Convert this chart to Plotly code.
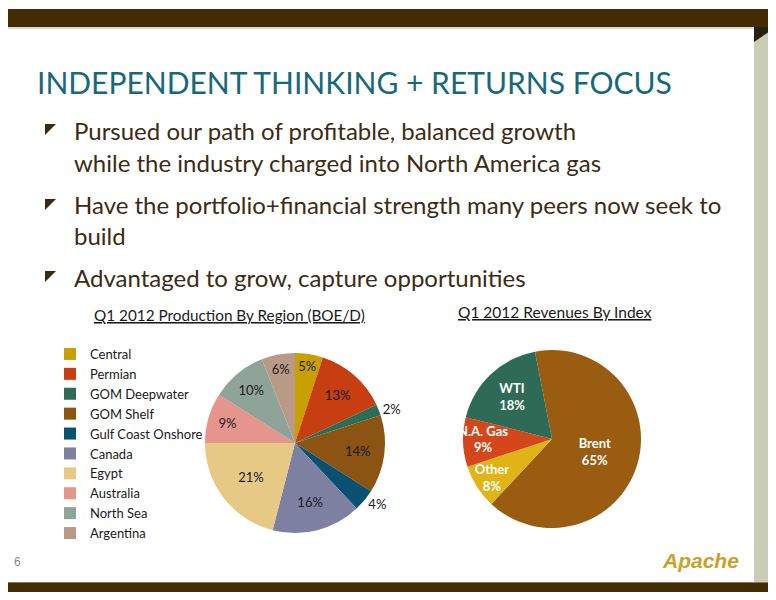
import plotly.graph_objects as go

OFF = 8  # page body margin of the browser
W, H = 776 - OFF, 600 - 2 * OFF

# ---- data ----
region_labels = ["Central", "Permian", "GOM Deepwater", "GOM Shelf", "Gulf Coast Onshore",
                 "Canada", "Egypt", "Australia", "North Sea", "Argentina"]
region_values = [5, 13, 2, 14, 4, 16, 21, 9, 10, 6]
region_colors = ["#c9a000", "#c63e12", "#2d6c57", "#8b5412", "#0a5070",
                 "#7e80a2", "#e6c985", "#e5958b", "#8fa398", "#b89a87"]
region_textpos = ["inside", "inside", "outside", "inside", "outside",
                  "inside", "inside", "inside", "inside", "inside"]

index_labels = ["Brent", "Other", "N.A. Gas", "WTI"]
index_values = [65, 8, 9, 18]
index_colors = ["#9a5c10", "#e0b415", "#d5471a", "#2e6b57"]

title_text = "INDEPENDENT THINKING + RETURNS FOCUS"
bullet_lines = [
    ("Pursued our path of profitable, balanced growth", 138, True),
    ("while the industry charged into North America gas", 170, False),
    ("Have the portfolio+financial strength many peers now seek to", 213, True),
    ("build", 243, False),
    ("Advantaged to grow, capture opportunities", 285, True),
]


def px(x):
    return (x - OFF) / W


def py(y):
    return 1 - (y - OFF) / H


fig = go.Figure()

# left pie: production by region
cx, cy, r = 295, 443, 90
fig.add_trace(go.Pie(
    labels=region_labels, values=region_values,
    text=[f"{v}%" for v in region_values], textinfo="text",
    textposition=region_textpos, insidetextorientation="horizontal",
    sort=False, direction="clockwise", rotation=0,
    marker=dict(colors=region_colors, line=dict(width=0)),
    textfont=dict(family="Lato", size=13, color="#1a1a1a"),
    outsidetextfont=dict(family="Lato", size=13, color="#1a1a1a"),
    domain=dict(x=[px(cx - r), px(cx + r)], y=[py(cy + r), py(cy - r)]),
    showlegend=True, hoverinfo="label+percent",
))

# right pie: revenues by index
cx2, cy2, r2 = 552, 439, 89
fig.add_trace(go.Pie(
    labels=index_labels, values=index_values,
    text=[f"<b>{l}<br>{v}%</b>" for l, v in zip(index_labels, index_values)],
    textinfo="text", textposition="inside", insidetextorientation="horizontal",
    sort=False, direction="clockwise", rotation=-11,
    marker=dict(colors=index_colors, line=dict(width=0)),
    textfont=dict(family="Lato", size=13, color="white"),
    domain=dict(x=[px(cx2 - r2), px(cx2 + r2)], y=[py(cy2 + r2), py(cy2 - r2)]),
    showlegend=False, hoverinfo="label+percent",
))

shapes = []
# top bar
shapes.append(dict(type="rect", xref="paper", yref="paper", x0=0, x1=1, y0=py(27), y1=py(9),
                   fillcolor="#432c02", line=dict(width=0), layer="below"))
shapes.append(dict(type="rect", xref="paper", yref="paper", x0=0, x1=px(754), y0=py(29), y1=py(27),
                   fillcolor="#d9d9d9", line=dict(width=0), layer="below"))
# right strip
shapes.append(dict(type="rect", xref="paper", yref="paper", x0=px(754), x1=1, y0=py(582), y1=py(27),
                   fillcolor="#c9cdb5", line=dict(width=0), layer="below"))
shapes.append(dict(type="path", xref="paper", yref="paper",
                   path=f"M{px(754)},{py(27)} L{px(776)},{py(27)} L{px(754)},{py(42)} Z",
                   fillcolor="#2a1f14", line=dict(width=0), layer="below"))
# bottom bar
shapes.append(dict(type="rect", xref="paper", yref="paper", x0=0, x1=1, y0=py(592), y1=py(582),
                   fillcolor="#432c02", line=dict(width=0), layer="below"))
shapes.append(dict(type="rect", xref="paper", yref="paper", x0=0, x1=1, y0=py(583), y1=py(582),
                   fillcolor="#8a7a5a", line=dict(width=0), layer="below"))

annotations = []
annotations.append(dict(text=title_text, x=px(35), y=py(82), xref="paper", yref="paper",
                        xanchor="left", yanchor="middle", showarrow=False,
                        font=dict(family="Lato", size=30, color="#17687a")))
for txt, base, bullet in bullet_lines:
    annotations.append(dict(text=txt, x=px(72), y=py(base - 8), xref="paper", yref="paper",
                            xanchor="left", yanchor="middle", showarrow=False,
                            font=dict(family="Lato", size=24, color="#3d2b13")))
    if bullet:
        t = base - 14
        shapes.append(dict(type="path", xref="paper", yref="paper",
                           path=f"M{px(45)},{py(t)} L{px(56)},{py(t)} L{px(45)},{py(t + 11)} Z",
                           fillcolor="#3b2a10", line=dict(width=0)))

annotations.append(dict(text="<u>Q1 2012 Production By Region (BOE/D)</u>", x=px(92), y=py(315),
                        xref="paper", yref="paper", xanchor="left", yanchor="middle", showarrow=False,
                        font=dict(family="Lato", size=15.3, color="#1a1a1a")))
annotations.append(dict(text="<u>Q1 2012 Revenues By Index</u>", x=px(456), y=py(312),
                        xref="paper", yref="paper", xanchor="left", yanchor="middle", showarrow=False,
                        font=dict(family="Lato", size=15.5, color="#1a1a1a")))
annotations.append(dict(text="6", x=px(17), y=py(562), xref="paper", yref="paper",
                        xanchor="center", yanchor="middle", showarrow=False,
                        font=dict(family="Liberation Sans", size=12, color="#888888")))
annotations.append(dict(text="<b><i>Apache</i></b>", x=px(700), y=py(560), xref="paper", yref="paper",
                        xanchor="center", yanchor="middle", showarrow=False,
                        font=dict(family="Liberation Sans Narrow, Liberation Sans", size=21, color="#c9a227")))

fig.update_layout(
    width=W, height=H, margin=dict(l=0, r=0, t=0, b=0),
    paper_bgcolor="white", plot_bgcolor="white",
    shapes=shapes, annotations=annotations,
    uniformtext=dict(minsize=13, mode="show"),
    legend=dict(x=px(50), y=py(339), xanchor="left", yanchor="top",
                font=dict(family="Lato", size=13, color="#1a1a1a"),
                bgcolor="rgba(0,0,0,0)", itemclick=False, itemdoubleclick=False),
)

fig.write_html("out.html")
